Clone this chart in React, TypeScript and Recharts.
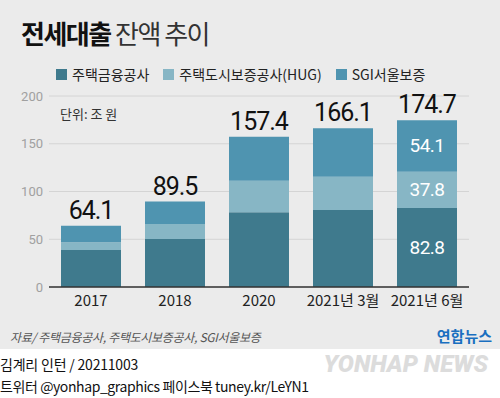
import { BarChart, Bar, XAxis, YAxis, CartesianGrid, LabelList } from 'recharts'

const categories = ['2017', '2018', '2020', '2021년 3월', '2021년 6월']
const hf = [38.7, 50.3, 78.2, 80.6, 82.8]
const hug = [8.1, 15.7, 33.1, 34.9, 37.8]
const sgi = [17.3, 23.5, 46.1, 50.6, 54.1]
const totals = ['64.1', '89.5', '157.4', '166.1', '174.7']
const yTicks = [0, 50, 100, 150, 200]

const SERIES = [
  { key: 'hf', name: '주택금융공사', color: '#3f7a8d' },
  { key: 'hug', name: '주택도시보증공사(HUG)', color: '#87b6c5' },
  { key: 'sgi', name: 'SGI서울보증', color: '#4f94b0' },
]

const KR = '"Noto Sans CJK KR", "Noto Sans", sans-serif'
const NUM = 'Roboto, "Noto Sans", sans-serif'

const data = categories.map((name, i) => ({
  name,
  hf: hf[i],
  hug: hug[i],
  sgi: sgi[i],
  total: totals[i],
}))

// only the latest bar carries the segment values
function innerLabel(props: any) {
  const { x, y, width, height, value, index } = props
  if (index !== data.length - 1) return null
  return (
    <text
      x={x + width / 2}
      y={y + height / 2}
      textAnchor="middle"
      dominantBaseline="central"
      fill="#fff"
      fontSize={19}
      fontFamily={NUM}
      letterSpacing={-0.5}
    >
      {value}
    </text>
  )
}

function totalLabel(props: any) {
  const { x, y, width, value } = props
  return (
    <text x={x + width / 2} y={y - 7} textAnchor="middle" fill="#111" fontSize={25} fontFamily={NUM} letterSpacing={-1}>
      {value}
    </text>
  )
}

export default function App() {
  return (
    <div style={{ position: 'absolute', left: 0, top: 0, width: 500, height: 398, background: '#fff', overflow: 'hidden' }}>
      <div style={{ position: 'absolute', left: 0, top: 0, width: 500, height: 349, background: '#ebebeb' }} />
      <div style={{ position: 'absolute', left: 21, top: 14, fontFamily: KR, fontSize: 26, color: '#111', whiteSpace: 'nowrap', letterSpacing: -1.5 }}>
        <span style={{ fontWeight: 700 }}>전세대출</span>
        <span style={{ fontWeight: 400, color: '#333' }}> 잔액 추이</span>
      </div>
      <div style={{ position: 'absolute', left: 56, top: 64, display: 'flex', alignItems: 'center', fontFamily: KR, fontSize: 14, color: '#222', whiteSpace: 'nowrap' }}>
        {SERIES.map((s, i) => (
          <div key={s.key} style={{ display: 'flex', alignItems: 'center', marginLeft: i === 0 ? 0 : 14 }}>
            <span style={{ width: 11, height: 11, background: s.color, display: 'inline-block', marginRight: 5 }} />
            <span>{s.name}</span>
          </div>
        ))}
      </div>
      <div style={{ position: 'absolute', left: 0, top: 0 }}>
        <BarChart width={500} height={320} data={data} margin={{ top: 96, right: 31, bottom: 3, left: 0 }}>
          <CartesianGrid vertical={false} stroke="#d4d4d4" />
          <XAxis
            dataKey="name"
            tickLine={false}
            axisLine={{ stroke: '#333', strokeWidth: 1.5 }}
            tick={{ fill: '#222', fontSize: 15, fontFamily: KR }}
            height={30}
            interval={0}
          />
          <YAxis
            width={49}
            domain={[0, 200]}
            ticks={yTicks}
            axisLine={false}
            tickLine={false}
            tickMargin={0}
            tick={{ fill: '#a0a0a0', fontSize: 13, fontFamily: NUM }}
          />
          {SERIES.map((s, i) => (
            <Bar key={s.key} dataKey={s.key} name={s.name} stackId="a" fill={s.color} barSize={60} isAnimationActive={false}>
              <LabelList dataKey={s.key} content={innerLabel} />
              {i === SERIES.length - 1 && <LabelList dataKey="total" content={totalLabel} />}
            </Bar>
          ))}
        </BarChart>
      </div>
      <div style={{ position: 'absolute', left: 60, top: 104, fontFamily: KR, fontSize: 13, color: '#333' }}>단위: 조 원</div>
      <div style={{ position: 'absolute', left: 10, top: 328, fontFamily: KR, fontSize: 12, color: '#555', fontStyle: 'italic', letterSpacing: -0.3 }}>
        자료/ 주택금융공사, 주택도시보증공사, SGI서울보증
      </div>
      <div style={{ position: 'absolute', right: 8, top: 325, fontFamily: KR, fontSize: 15, fontWeight: 700, color: '#1a6fc0' }}>
        연합뉴스
      </div>
      <div style={{ position: 'absolute', left: 0, top: 354, fontFamily: KR, fontSize: 14, color: '#111', whiteSpace: 'nowrap', letterSpacing: -0.2 }}>
        김계리 인턴 / 20211003
      </div>
      <div style={{ position: 'absolute', left: 0, top: 376, fontFamily: KR, fontSize: 14, color: '#111', whiteSpace: 'nowrap', letterSpacing: -0.4 }}>
        트위터 @yonhap_graphics 페이스북 tuney.kr/LeYN1
      </div>
      <div style={{ position: 'absolute', right: 12, top: 350, fontFamily: NUM, fontSize: 24, fontWeight: 900, fontStyle: 'italic', color: '#dcdcdc', whiteSpace: 'nowrap' }}>
        YONHAP NEWS
      </div>
    </div>
  )
}
